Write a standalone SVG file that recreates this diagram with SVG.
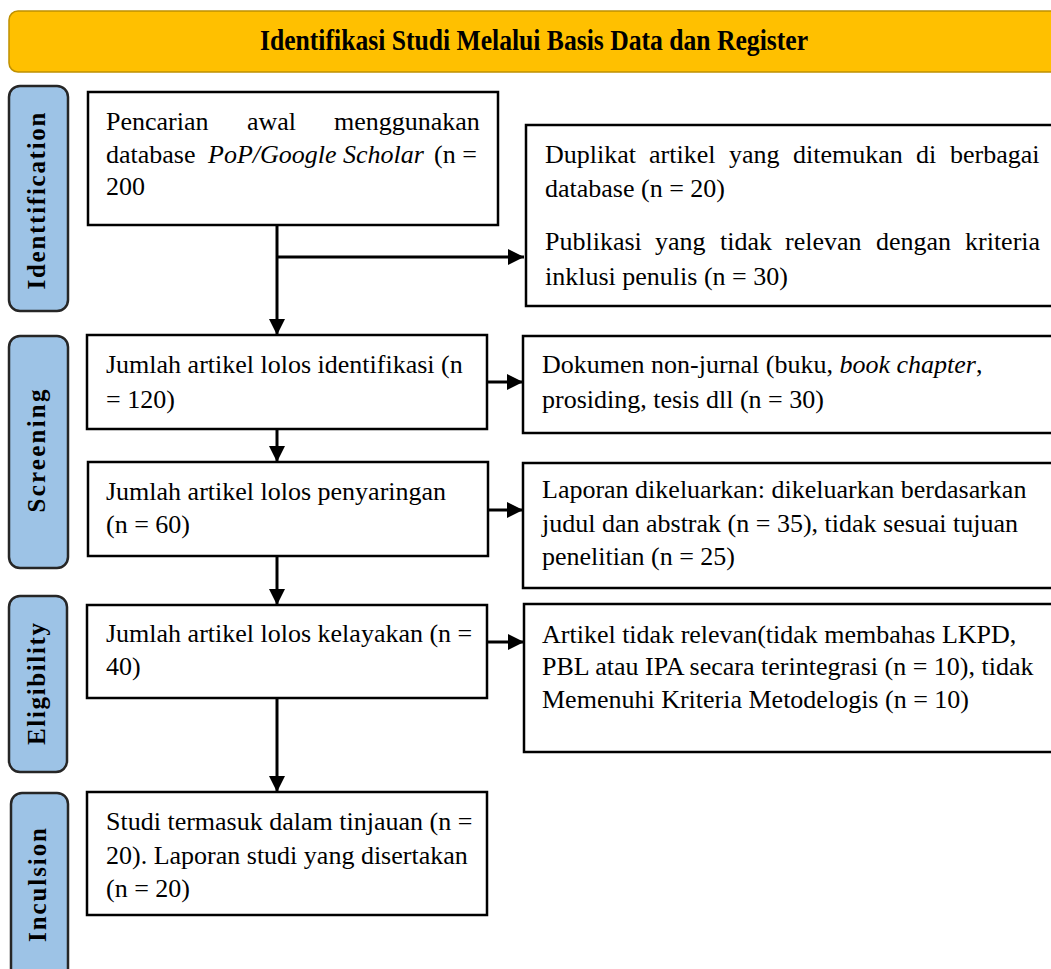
<svg xmlns="http://www.w3.org/2000/svg" width="1051" height="969" viewBox="0 0 1051 969">
<style>
.box{fill:#fff;stroke:#000;stroke-width:2.5}
.side{fill:#9DC3E6;stroke:#262626;stroke-width:2.5}
.t{font-family:"Liberation Serif","Times New Roman",serif;font-size:26px;fill:#000}
.lab{font-family:"Liberation Serif","Times New Roman",serif;font-size:25px;font-weight:bold;fill:#000}
.con{stroke:#000;stroke-width:3;fill:none}
</style>
<defs>
<marker id="ah" markerUnits="userSpaceOnUse" markerWidth="16" markerHeight="16" viewBox="0 0 14 14" refX="14" refY="7" orient="auto">
<path d="M0,0 L14,7 L0,14 Z" fill="#000"/>
</marker>
</defs>
<rect width="1051" height="969" fill="#fff"/>

<g id="header">
<rect x="9" y="11" width="1060" height="61" rx="9" fill="#FFC000" stroke="#BF9000" stroke-width="1.5"/>
<text x="260" y="50" font-family="'Liberation Serif',serif" font-size="29" font-weight="bold" textLength="548" lengthAdjust="spacingAndGlyphs">Identifikasi Studi Melalui Basis Data dan Register</text>
</g>

<g id="stage-identification">
<rect class="side" x="9" y="86" width="59" height="225" rx="11"/>
<text class="lab" transform="translate(45,201) rotate(-90)" text-anchor="middle" textLength="177" lengthAdjust="spacing">Identtification</text>
</g>
<g id="stage-screening">
<rect class="side" x="9" y="336" width="59" height="232" rx="11"/>
<text class="lab" transform="translate(45,451) rotate(-90)" text-anchor="middle" textLength="123" lengthAdjust="spacing">Screening</text>
</g>
<g id="stage-eligibility">
<rect class="side" x="9" y="596" width="58" height="176" rx="11"/>
<text class="lab" transform="translate(45,684) rotate(-90)" text-anchor="middle" textLength="122" lengthAdjust="spacing">Eligibility</text>
</g>
<g id="stage-inclusion">
<rect class="side" x="11" y="793" width="57" height="200" rx="11"/>
<text class="lab" transform="translate(46,885) rotate(-90)" text-anchor="middle" textLength="114" lengthAdjust="spacing">Inculsion</text>
</g>

<g id="connectors">
<line class="con" x1="277" y1="225" x2="277" y2="335" marker-end="url(#ah)"/>
<line class="con" x1="277" y1="257" x2="524" y2="257" marker-end="url(#ah)"/>
<line class="con" x1="487" y1="382" x2="523" y2="382" marker-end="url(#ah)"/>
<line class="con" x1="277" y1="429" x2="277" y2="462" marker-end="url(#ah)"/>
<line class="con" x1="488" y1="510" x2="523" y2="510" marker-end="url(#ah)"/>
<line class="con" x1="277" y1="556" x2="277" y2="605" marker-end="url(#ah)"/>
<line class="con" x1="487" y1="642" x2="524" y2="642" marker-end="url(#ah)"/>
<line class="con" x1="277" y1="698" x2="277" y2="792" marker-end="url(#ah)"/>
</g>

<g id="n-search">
<rect class="box" x="88" y="92" width="410" height="133"/>
<text class="t" y="130"><tspan x="106">Pencarian</tspan><tspan x="247">awal</tspan><tspan x="334">menggunakan</tspan></text>
<text class="t" y="163"><tspan x="106">database</tspan><tspan x="208" font-style="italic">PoP/Google Scholar</tspan><tspan x="434">(n =</tspan></text>
<text class="t" x="106" y="195">200</text>
</g>

<g id="n-removed1">
<rect class="box" x="526" y="125" width="540" height="181"/>
<text class="t" y="163"><tspan x="545">Duplikat</tspan><tspan x="649">artikel</tspan><tspan x="729">yang</tspan><tspan x="793">ditemukan</tspan><tspan x="916">di</tspan><tspan x="950">berbagai</tspan></text>
<text class="t" x="545" y="197">database (n = 20)</text>
<text class="t" y="250"><tspan x="545">Publikasi</tspan><tspan x="655">yang</tspan><tspan x="720">tidak</tspan><tspan x="785">relevan</tspan><tspan x="876">dengan</tspan><tspan x="965">kriteria</tspan></text>
<text class="t" x="545" y="285">inklusi penulis (n = 30)</text>
</g>

<g id="n-identified">
<rect class="box" x="87" y="335" width="400" height="94"/>
<text class="t" x="106" y="373">Jumlah artikel lolos identifikasi (n</text>
<text class="t" x="106" y="408">= 120)</text>
</g>

<g id="n-removed2">
<rect class="box" x="523" y="336" width="540" height="97"/>
<text class="t" x="542" y="373">Dokumen non-jurnal (buku, <tspan font-style="italic">book chapter</tspan>,</text>
<text class="t" x="542" y="408">prosiding, tesis dll (n = 30)</text>
</g>

<g id="n-screened">
<rect class="box" x="88" y="462" width="400" height="94"/>
<text class="t" x="106" y="500">Jumlah artikel lolos penyaringan</text>
<text class="t" x="106" y="533">(n = 60)</text>
</g>

<g id="n-removed3">
<rect class="box" x="523" y="463" width="540" height="125"/>
<text class="t" x="542" y="498">Laporan dikeluarkan: dikeluarkan berdasarkan</text>
<text class="t" x="542" y="532">judul dan abstrak (n = 35), tidak sesuai tujuan</text>
<text class="t" x="542" y="565">penelitian (n = 25)</text>
</g>

<g id="n-eligible">
<rect class="box" x="87" y="605" width="400" height="93"/>
<text class="t" x="106" y="642">Jumlah artikel lolos kelayakan (n =</text>
<text class="t" x="106" y="675">40)</text>
</g>

<g id="n-removed4">
<rect class="box" x="524" y="604" width="540" height="148"/>
<text class="t" x="542" y="643">Artikel tidak relevan(tidak membahas LKPD,</text>
<text class="t" x="542" y="675">PBL atau IPA secara terintegrasi (n = 10), tidak</text>
<text class="t" x="542" y="708">Memenuhi Kriteria Metodelogis (n = 10)</text>
</g>

<g id="n-included">
<rect class="box" x="87" y="792" width="400" height="123"/>
<text class="t" x="106" y="830">Studi termasuk dalam tinjauan (n =</text>
<text class="t" x="106" y="864">20). Laporan studi yang disertakan</text>
<text class="t" x="106" y="897">(n = 20)</text>
</g>
</svg>
